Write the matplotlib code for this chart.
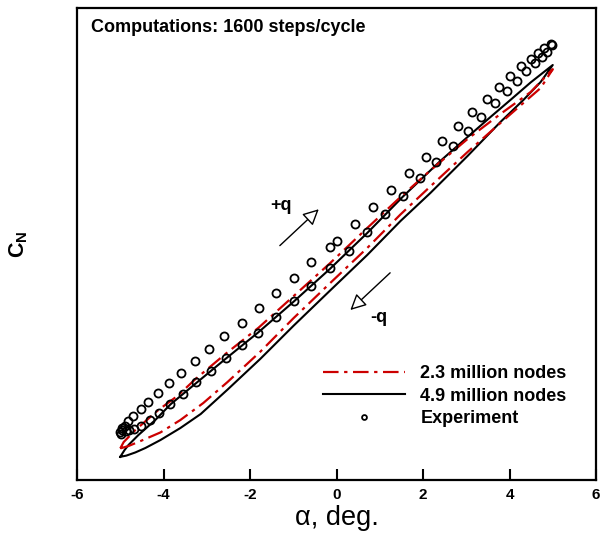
import matplotlib
matplotlib.use('Agg')
import matplotlib.pyplot as plt

plt.rcParams['font.family'] = ['Liberation Sans', 'DejaVu Sans']
plt.rcParams['mathtext.fontset'] = 'custom'
plt.rcParams['mathtext.bf'] = 'Liberation Sans:weight=bold'
plt.rcParams['mathtext.rm'] = 'Liberation Sans'

# experiment, upper row of the hysteresis loop
exp_up_alpha = [-5.00, -4.99, -4.97, -4.96, -4.83, -4.70, -4.53, -4.35, -4.12, -3.88, -3.59,
                -3.28, -2.94, -2.59, -2.18, -1.80, -1.41, -0.99, -0.58, -0.155, 0.00,
                0.42, 0.85, 1.26, 1.67, 2.06, 2.44, 2.81, 3.14, 3.47, 3.75, 4.02,
                4.27, 4.49, 4.65, 4.79, 4.95]
exp_up_cn = [-0.480, -0.485, -0.470, -0.475, -0.452, -0.440, -0.423, -0.405, -0.383, -0.358,
             -0.332, -0.303, -0.273, -0.240, -0.207, -0.171, -0.133, -0.096, -0.056, -0.017,
             -0.003, 0.040, 0.082, 0.124, 0.167, 0.208, 0.248, 0.284, 0.319, 0.352, 0.382,
             0.410, 0.435, 0.453, 0.467, 0.479, 0.490]

# experiment, lower row
exp_dn_alpha = [-4.90, -4.86, -4.80, -4.69, -4.52, -4.32, -4.10, -3.84, -3.56, -3.24, -2.91,
                -2.56, -2.19, -1.81, -1.39, -0.99, -0.58, -0.155, 0.28, 0.71, 1.13, 1.54,
                1.93, 2.31, 2.69, 3.05, 3.35, 3.66, 3.95, 4.18, 4.39, 4.60, 4.76, 4.87, 4.99]
exp_dn_cn = [-0.465, -0.478, -0.475, -0.473, -0.465, -0.450, -0.432, -0.410, -0.385, -0.356,
             -0.327, -0.296, -0.2625, -0.232, -0.193, -0.1525, -0.114, -0.071, -0.027, 0.019,
             0.065, 0.111, 0.154, 0.194, 0.235, 0.273, 0.308, 0.342, 0.372, 0.398, 0.423,
             0.442, 0.458, 0.471, 0.4875]

# 4.9 million nodes
fine_up_alpha = [-5.00, -4.90, -4.81, -4.58, -4.19, -3.84, -3.26, -2.57, -1.81, -0.99, -0.155,
                 0.71, 1.54, 2.40, 3.03, 3.56, 4.02, 4.49, 5.00]
fine_up_cn = [-0.542, -0.525, -0.5125, -0.4875, -0.450, -0.411, -0.359, -0.2975, -0.231,
              -0.154, -0.0725, 0.0175, 0.109, 0.1975, 0.2575, 0.3075, 0.350, 0.394, 0.4375]
fine_dn_alpha = [5.00, 4.72, 4.32, 3.79, 3.03, 2.17, 1.48, 0.71, -0.16, -0.99, -1.76, -2.52,
                 -3.14, -3.61, -4.07, -4.42, -4.65, -4.86, -5.00]
fine_dn_cn = [0.4375, 0.395, 0.350, 0.295, 0.210, 0.1175, 0.0475, -0.0375, -0.1275, -0.214,
              -0.297, -0.374, -0.435, -0.470, -0.500, -0.520, -0.531, -0.539, -0.542]

# 2.3 million nodes
coarse_up_alpha = [-5.00, -4.92, -4.65, -4.12, -3.68, -3.26, -2.57, -1.80, -0.99, -0.16, 0.71,
                   1.48, 2.17, 3.03, 3.79, 4.49, 5.00]
coarse_up_cn = [-0.521, -0.505, -0.475, -0.425, -0.390, -0.3475, -0.285, -0.219, -0.140,
                -0.059, 0.030, 0.1075, 0.174, 0.2525, 0.315, 0.370, 0.427]
coarse_dn_alpha = [5.00, 4.72, 4.32, 3.79, 3.03, 2.17, 1.48, 0.71, -0.16, -0.99, -1.76, -2.52,
                   -3.08, -3.61, -4.07, -4.53, -4.81, -5.00]
coarse_dn_cn = [0.427, 0.380, 0.3425, 0.2925, 0.220, 0.134, 0.064, -0.020, -0.109, -0.195,
                -0.279, -0.355, -0.4075, -0.450, -0.481, -0.5025, -0.515, -0.521]

x_ticks = [-6, -4, -2, 0, 2, 4, 6]

fig = plt.figure(figsize=(6.03, 5.37), dpi=100)
ax = fig.add_axes([0.1277, 0.1061, 0.8607, 0.879])

red = '#cc0000'
dashdot = (0, (7, 2.5, 1.5, 2.5))
ax.plot(coarse_up_alpha + coarse_dn_alpha, coarse_up_cn + coarse_dn_cn,
        color=red, lw=1.6, linestyle=dashdot, label='2.3 million nodes', zorder=3)
ax.plot(fine_up_alpha + fine_dn_alpha, fine_up_cn + fine_dn_cn,
        color='black', lw=1.5, label='4.9 million nodes', zorder=2)
ax.plot(exp_up_alpha + exp_dn_alpha, exp_up_cn + exp_dn_cn, 'o', ms=5.8, mfc='none',
        mec='black', mew=1.3, label='Experiment', zorder=4)

# pitch direction arrows
arrow = dict(arrowstyle='-|>', fc='white', ec='black', lw=1.0, mutation_scale=24,
             shrinkA=0, shrinkB=0)
ax.annotate('', xy=(-0.41, 0.077), xytext=(-1.31, -0.014), arrowprops=arrow)
ax.annotate('', xy=(0.32, -0.175), xytext=(1.24, -0.082), arrowprops=arrow)
ax.text(-1.29, 0.0875, '+q', fontsize=13, fontweight='bold', ha='center', va='center')
ax.text(0.97, -0.1925, '-q', fontsize=13, fontweight='bold', ha='center', va='center')

ax.text(0.027, 0.958, 'Computations: 1600 steps/cycle', transform=ax.transAxes,
        fontsize=13, fontweight='bold', ha='left', va='center')

ax.set_xlim(-6, 6)
ax.set_ylim(-0.6, 0.58)
ax.set_xticks(x_ticks)
ax.set_xticklabels([str(t) for t in x_ticks], fontsize=11, fontweight='bold')
ax.set_yticks([])
ax.tick_params(axis='x', direction='in', length=8, width=1.5, pad=6)
for s in ax.spines.values():
    s.set_linewidth(1.6)

ax.set_xlabel('α, deg.', fontsize=19.5, labelpad=2)
ax.set_ylabel(r'$\mathbf{C_N}$', fontsize=15.5, labelpad=34)

leg = ax.legend(loc='upper left', bbox_to_anchor=(0.457, 0.262), frameon=False,
                prop={'weight': 'bold', 'size': 13}, handlelength=4.55,
                handletextpad=0.83, labelspacing=0.29, markerscale=0.6, borderpad=0)

fig.savefig('out.png', dpi=100)
